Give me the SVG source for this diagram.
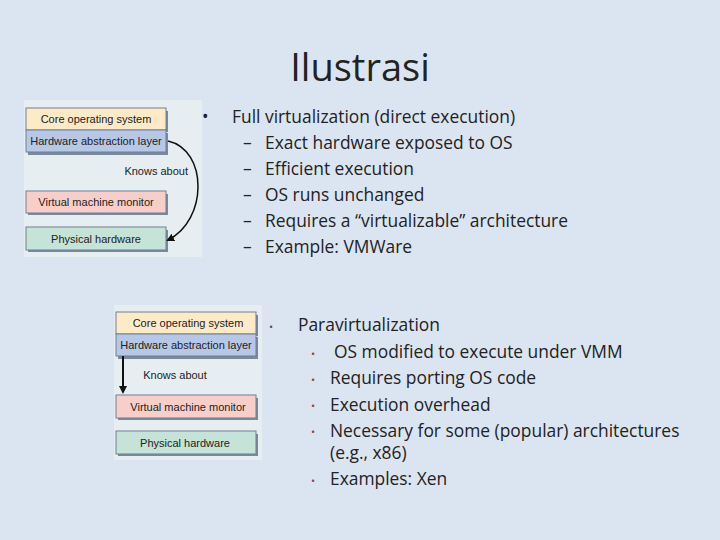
<svg xmlns="http://www.w3.org/2000/svg" width="720" height="540" viewBox="0 0 720 540">
<defs>
<style>
.t{font-family:"Open Sans","Liberation Sans",sans-serif;font-size:17.4px;fill:#222}
.f{font-family:"Liberation Sans Narrow","Liberation Sans",sans-serif;font-size:11px;fill:#222;text-anchor:middle}
.bx{stroke:#6f7f93;stroke-width:1}
.sh{fill:#7a8a9c}
.pn{fill:#e6eef2}
</style>
<marker id="ah" markerWidth="8" markerHeight="8" refX="6" refY="4" orient="auto" markerUnits="userSpaceOnUse"><path d="M0,0 L8,4 L0,8 Z" fill="#111"/></marker>
</defs>
<rect width="720" height="540" fill="#dbe5f1"/>
<text x="360" y="81" text-anchor="middle" font-family="'Open Sans','Liberation Sans',sans-serif" font-size="38" fill="#222">Ilustrasi</text>

<g id="fig1">
<rect class="pn" x="24" y="100" width="178" height="157"/>
<g id="f1-core"><rect class="sh" x="28" y="111" width="140" height="21"/><rect class="bx" x="26" y="108" width="140" height="22" fill="#fdebc8"/><text class="f" x="96" y="123">Core operating system</text></g>
<g id="f1-hal"><rect class="sh" x="28" y="133" width="140" height="22"/><rect class="bx" x="26" y="130" width="140" height="22" fill="#b6c8e6"/><text class="f" x="96" y="145">Hardware abstraction layer</text></g>
<g id="f1-vmm"><rect class="sh" x="28" y="194" width="140" height="21"/><rect class="bx" x="26" y="191" width="140" height="22" fill="#f8cfc8"/><text class="f" x="96" y="206">Virtual machine monitor</text></g>
<g id="f1-phys"><rect class="sh" x="28" y="230" width="140" height="22"/><rect class="bx" x="26" y="227" width="140" height="23" fill="#c5e3d6"/><text class="f" x="96" y="243">Physical hardware</text></g>
<text class="f" x="158" y="175" text-anchor="end" style="text-anchor:end" transform="translate(30,0)">Knows about</text>
</g>

<g id="fig2">
<rect class="pn" x="114" y="305" width="148" height="155"/>
<g id="f2-core"><rect class="sh" x="118" y="315" width="140" height="21"/><rect class="bx" x="116" y="312" width="140" height="22" fill="#fdebc8"/><text class="f" x="188" y="327">Core operating system</text></g>
<g id="f2-hal"><rect class="sh" x="118" y="337" width="140" height="22"/><rect class="bx" x="116" y="334" width="140" height="22" fill="#b6c8e6"/><text class="f" x="186" y="349">Hardware abstraction layer</text></g>
<g id="f2-vmm"><rect class="sh" x="118" y="398" width="140" height="22"/><rect class="bx" x="116" y="395" width="140" height="23" fill="#f8cfc8"/><text class="f" x="188" y="411">Virtual machine monitor</text></g>
<g id="f2-phys"><rect class="sh" x="118" y="434" width="140" height="22"/><rect class="bx" x="116" y="431" width="140" height="23" fill="#c5e3d6"/><text class="f" x="185" y="447">Physical hardware</text></g>
<text class="f" x="175" y="379">Knows about</text>
</g>

<g id="connectors" fill="none" stroke="#111" stroke-width="1.5">
<path d="M168,141 C208,150 208,220 168,240" marker-end="url(#ah)"/>
<path d="M123,356 L123,392" stroke-width="2" marker-end="url(#ah)"/>
</g>

<g id="text1" class="t">
<text x="202" y="123">•</text>
<text x="232" y="123">Full virtualization (direct execution)</text>
<text x="243" y="149">–</text><text x="265" y="149">Exact hardware exposed to OS</text>
<text x="243" y="175">–</text><text x="265" y="175">Efficient execution</text>
<text x="243" y="201">–</text><text x="265" y="201">OS runs unchanged</text>
<text x="243" y="227">–</text><text x="265" y="227">Requires a “virtualizable” architecture</text>
<text x="243" y="253">–</text><text x="265" y="253">Example: VMWare</text>
</g>
<g id="text2" class="t">
<text x="269" y="331" font-size="11" fill="#555">•</text>
<text x="298" y="331">Paravirtualization</text>
<g font-size="11" fill="#a04040"><text x="311" y="358">•</text><text x="311" y="384">•</text><text x="311" y="410">•</text><text x="311" y="436">•</text><text x="311" y="485">•</text></g>
<text x="334" y="358">OS modified to execute under VMM</text>
<text x="330" y="384">Requires porting OS code</text>
<text x="330" y="411">Execution overhead</text>
<text x="330" y="437">Necessary for some (popular) architectures</text>
<text x="330" y="459">(e.g., x86)</text>
<text x="330" y="485">Examples: Xen</text>
</g>
</svg>
